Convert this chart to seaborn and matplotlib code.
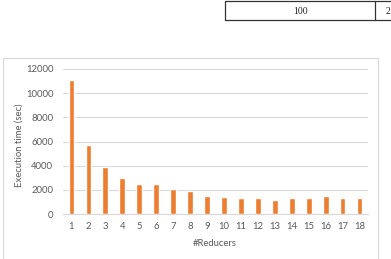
import matplotlib
matplotlib.use("Agg")
import matplotlib.pyplot as plt
import seaborn as sns
import pandas as pd
from matplotlib.patches import Rectangle
from matplotlib.lines import Line2D

reducers = [str(i) for i in range(1, 19)]
exec_time = [11050, 5680, 3900, 3000, 2480, 2480, 2090, 1930, 1520,
             1400, 1360, 1350, 1180, 1300, 1300, 1490, 1360, 1300]
y_ticks = [0, 2000, 4000, 6000, 8000, 10000, 12000]

sns.set_theme(style="white")
plt.rcParams['font.family'] = ['Lato', 'DejaVu Sans']

W, H = 391, 259
fig = plt.figure(figsize=(W / 100, H / 100), dpi=100)
fig.patch.set_facecolor("white")

def fx(x):
    return x / W

def fy(y):
    return 1 - y / H

# chart border
fig.add_artist(Rectangle((fx(2.5), fy(300)), fx(378) - fx(2.5), fy(58) - fy(300),
                         transform=fig.transFigure, fill=False,
                         edgecolor="#d9d9d9", linewidth=0.8))

# table fragment at top right
tc = "#333333"
fig.add_artist(Line2D([fx(224.5), fx(400)], [fy(0.7), fy(0.7)], transform=fig.transFigure, color=tc, lw=0.9))
fig.add_artist(Line2D([fx(224.5), fx(400)], [fy(20), fy(20)], transform=fig.transFigure, color=tc, lw=0.9))
fig.add_artist(Line2D([fx(224.5), fx(224.5)], [fy(0.7), fy(20)], transform=fig.transFigure, color=tc, lw=0.9))
fig.add_artist(Line2D([fx(375), fx(375)], [fy(0.7), fy(20)], transform=fig.transFigure, color=tc, lw=0.9))
fig.text(fx(300), fy(11), "100", ha="center", va="center", fontsize=7,
         family=["Liberation Serif"], color="#222222")
fig.text(fx(386), fy(11), "2", ha="left", va="center", fontsize=7,
         family=["Liberation Serif"], color="#222222")

ax = fig.add_axes([fx(63), fy(214), fx(368) - fx(63), fy(69) - fy(214)])
df = pd.DataFrame({"Reducers": reducers, "Time": exec_time})
sns.barplot(data=df, x="Reducers", y="Time", color="#ED7D31", saturation=1,
            width=0.34, ax=ax)
ax.set_xlim(-0.5, 17.5)
ax.set_ylim(0, 12000)
ax.set_yticks(y_ticks)
ax.set_yticklabels([str(v) for v in y_ticks])
ax.yaxis.grid(True, color="#d9d9d9", linewidth=0.8)
ax.set_axisbelow(True)
for s in ["top", "right", "left"]:
    ax.spines[s].set_visible(False)
ax.spines["bottom"].set_color("#d9d9d9")
ax.spines["bottom"].set_linewidth(0.8)
ax.tick_params(axis="both", length=0, labelsize=6.8, colors="#595959")
ax.tick_params(axis="y", pad=7)
ax.tick_params(axis="x", pad=6)
ax.set_xlabel("#Reducers", fontsize=6.8, color="#595959")
ax.set_ylabel("Execution time (sec)", fontsize=6.8, color="#595959")
ax.xaxis.set_label_coords((215 - 63) / 305, -(239 - 214) / 145)
ax.yaxis.set_label_coords((24 - 63) / 305, (214 - 145) / 145)

fig.savefig("out.png", dpi=100, facecolor="white")
